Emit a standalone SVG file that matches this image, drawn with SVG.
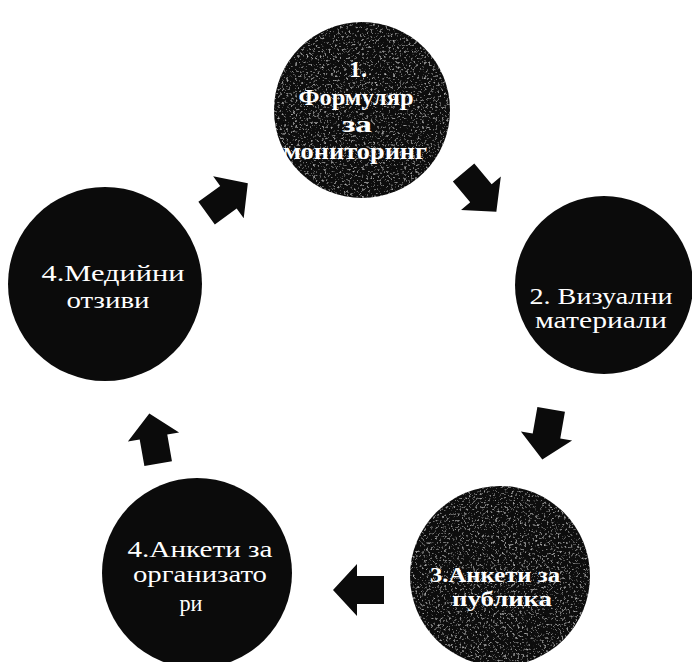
<svg xmlns="http://www.w3.org/2000/svg" width="692" height="662" viewBox="0 0 692 662">
<style>
.node{fill:#0b0b0b}
.t{font-family:"Liberation Serif","Times New Roman",serif;fill:#fff;text-anchor:middle;font-size:24px}
.b{font-weight:bold}
.s{font-size:20px}
.arr{fill:#0b0b0b}
</style>
<defs>
<filter id="grain" x="-10%" y="-10%" width="120%" height="120%">
<feTurbulence type="fractalNoise" baseFrequency="0.45" numOctaves="3" seed="7" result="n"/>
<feColorMatrix in="n" type="matrix" values="0 0 0 0 0.5 0 0 0 0 0.5 0 0 0 0 0.5 3 0 0 0 -1.75" result="w"/>
<feComposite in="w" in2="SourceGraphic" operator="in" result="wd"/>
<feMerge><feMergeNode in="SourceGraphic"/><feMergeNode in="wd"/></feMerge>
</filter>
<path id="ar" d="M-24,-14 L3,-14 L3,-26 L27,0 L3,26 L3,14 L-24,14 Z"/>
</defs>
<rect width="692" height="662" fill="#fff"/>
<g id="connectors">
<use href="#ar" class="arr" transform="translate(226,199) rotate(-36)"/>
<use href="#ar" class="arr" transform="translate(479,191) rotate(50)"/>
<use href="#ar" class="arr" transform="translate(547,433) rotate(100)"/>
<use href="#ar" class="arr" transform="translate(360,590) rotate(180)"/>
<use href="#ar" class="arr" transform="translate(154,440) rotate(-100)"/>
</g>
<g id="n1">
<circle class="node" cx="362" cy="110" r="88" filter="url(#grain)"/>
<text class="t b" x="358" y="77">1.</text>
<text class="t b" x="356" y="105" textLength="115" lengthAdjust="spacingAndGlyphs">Формуляр</text>
<text class="t b" x="357" y="132" textLength="30" lengthAdjust="spacingAndGlyphs">за</text>
<text class="t b" x="355" y="159" textLength="144" lengthAdjust="spacingAndGlyphs">мониторинг</text>
</g>
<g id="n2">
<circle class="node" cx="604" cy="285" r="89"/>
<text class="t" x="601" y="304" textLength="143" lengthAdjust="spacingAndGlyphs">2. Визуални</text>
<text class="t" x="601" y="328" textLength="132" lengthAdjust="spacingAndGlyphs">материали</text>
</g>
<g id="n3">
<circle class="node" cx="500" cy="576" r="90" filter="url(#grain)"/>
<text class="t b s" x="495" y="582" textLength="130" lengthAdjust="spacingAndGlyphs">3.Анкети за</text>
<text class="t b s" x="502" y="606" textLength="100" lengthAdjust="spacingAndGlyphs">публика</text>
</g>
<g id="n4">
<circle class="node" cx="197" cy="573" r="95"/>
<text class="t" x="200" y="557" textLength="145" lengthAdjust="spacingAndGlyphs">4.Анкети за</text>
<text class="t" x="200" y="582" textLength="134" lengthAdjust="spacingAndGlyphs">организато</text>
<text class="t" x="191" y="611" textLength="23" lengthAdjust="spacingAndGlyphs">ри</text>
</g>
<g id="n5">
<circle class="node" cx="105" cy="284" r="97"/>
<text class="t" x="113" y="281" textLength="143" lengthAdjust="spacingAndGlyphs">4.Медийни</text>
<text class="t" x="108" y="308" textLength="83" lengthAdjust="spacingAndGlyphs">отзиви</text>
</g>
</svg>
